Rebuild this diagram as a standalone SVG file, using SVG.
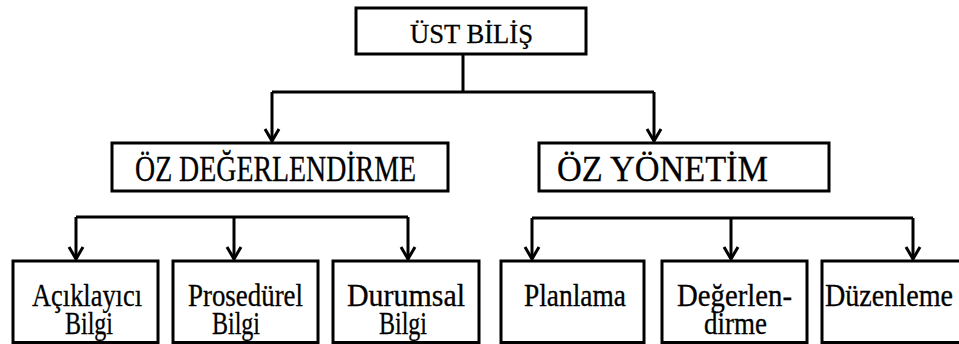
<svg xmlns="http://www.w3.org/2000/svg" width="959" height="344" viewBox="0 0 959 344">
<style>
.box{fill:#fff;stroke:#000;stroke-width:3}
.ln{fill:none;stroke:#000;stroke-width:3}
.t{font-family:"Liberation Serif","Times New Roman",Times,serif;fill:#000;stroke:#000;stroke-width:0.3}
.t1{font-size:28px}
.t2{font-size:35px}
.t3{font-size:31px}
</style>
<defs>
<marker id="arr" markerUnits="userSpaceOnUse" markerWidth="20" markerHeight="20" refX="14" refY="10" orient="auto" viewBox="0 0 20 20">
<path d="M2,3 L14,10 L2,17" fill="none" stroke="#000" stroke-width="3"/>
</marker>
</defs>
<g id="connectors">
<path class="ln" d="M463,54 V92"/>
<path class="ln" d="M272,92 H654"/>
<path class="ln" d="M272,92 V141" marker-end="url(#arr)"/>
<path class="ln" d="M654,92 V141" marker-end="url(#arr)"/>
<path class="ln" d="M76,217 H408"/>
<path class="ln" d="M76,217 V259" marker-end="url(#arr)"/>
<path class="ln" d="M234,217 V259" marker-end="url(#arr)"/>
<path class="ln" d="M408,217 V259" marker-end="url(#arr)"/>
<path class="ln" d="M532,218 H913"/>
<path class="ln" d="M532,218 V259" marker-end="url(#arr)"/>
<path class="ln" d="M731,218 V259" marker-end="url(#arr)"/>
<path class="ln" d="M913,218 V259" marker-end="url(#arr)"/>
</g>
<g id="ust-bilis">
<rect class="box" x="356" y="8" width="230" height="46"/>
<text class="t t1" x="410" y="43" textLength="123" lengthAdjust="spacingAndGlyphs">ÜST BİLİŞ</text>
</g>
<g id="oz-degerlendirme">
<rect class="box" x="112" y="143" width="336" height="48"/>
<text class="t t2" x="135" y="181" textLength="281" lengthAdjust="spacingAndGlyphs">ÖZ DEĞERLENDİRME</text>
</g>
<g id="oz-yonetim">
<rect class="box" x="539" y="143" width="290" height="48"/>
<text class="t t2" x="557" y="181" textLength="211" lengthAdjust="spacingAndGlyphs">ÖZ YÖNETİM</text>
</g>
<g id="aciklayici-bilgi">
<rect class="box" x="13" y="261" width="145" height="81.5"/>
<text class="t t3" x="32" y="306" textLength="110" lengthAdjust="spacingAndGlyphs">Açıklayıcı</text>
<text class="t t3" x="65" y="334" textLength="48" lengthAdjust="spacingAndGlyphs">Bilgi</text>
</g>
<g id="prosedurel-bilgi">
<rect class="box" x="173" y="261" width="145" height="81.5"/>
<text class="t t3" x="188" y="306" textLength="115" lengthAdjust="spacingAndGlyphs">Prosedürel</text>
<text class="t t3" x="212" y="334" textLength="48" lengthAdjust="spacingAndGlyphs">Bilgi</text>
</g>
<g id="durumsal-bilgi">
<rect class="box" x="333" y="261" width="146" height="81.5"/>
<text class="t t3" x="347" y="306" textLength="118" lengthAdjust="spacingAndGlyphs">Durumsal</text>
<text class="t t3" x="379" y="334" textLength="48" lengthAdjust="spacingAndGlyphs">Bilgi</text>
</g>
<g id="planlama">
<rect class="box" x="501" y="261" width="143" height="81.5"/>
<text class="t t3" x="524" y="306" textLength="102" lengthAdjust="spacingAndGlyphs">Planlama</text>
</g>
<g id="degerlendirme">
<rect class="box" x="662" y="261" width="145" height="81.5"/>
<text class="t t3" x="677" y="306" textLength="115" lengthAdjust="spacingAndGlyphs">Değerlen-</text>
<text class="t t3" x="704" y="334" textLength="63" lengthAdjust="spacingAndGlyphs">dirme</text>
</g>
<g id="duzenleme">
<rect class="box" x="822" y="261" width="150" height="81.5"/>
<text class="t t3" x="825" y="306" textLength="128" lengthAdjust="spacingAndGlyphs">Düzenleme</text>
</g>
</svg>
